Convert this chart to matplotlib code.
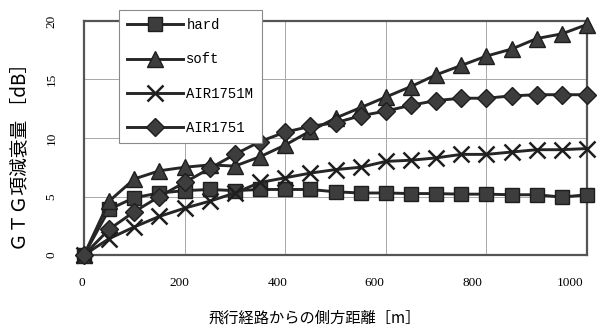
import matplotlib
matplotlib.use("Agg")
import matplotlib.pyplot as plt
import matplotlib.transforms as mtransforms

# Lateral distance from the flight path [m]
distance = [0, 50, 100, 150, 200, 250, 300, 350, 400, 450, 500,
            550, 600, 650, 700, 750, 800, 850, 900, 950, 1000]

# GTG-term attenuation [dB] for each ground model
hard = [0, 3.9, 4.9, 5.3, 5.5, 5.6, 5.5, 5.6, 5.6, 5.6, 5.4,
        5.3, 5.3, 5.25, 5.25, 5.2, 5.2, 5.15, 5.15, 4.95, 5.15]
soft = [0, 4.6, 6.5, 7.2, 7.5, 7.7, 7.6, 8.4, 9.4, 10.6, 11.7,
        12.6, 13.5, 14.4, 15.4, 16.2, 17.0, 17.6, 18.5, 18.9, 19.7]
air1751m = [0, 1.4, 2.4, 3.3, 4.0, 4.6, 5.3, 6.2, 6.6, 7.0, 7.3,
            7.5, 8.0, 8.1, 8.3, 8.6, 8.6, 8.8, 9.0, 9.0, 9.1]
air1751 = [0, 2.2, 3.7, 5.0, 6.2, 7.4, 8.6, 9.7, 10.5, 11.0, 11.3,
           11.9, 12.3, 12.8, 13.2, 13.4, 13.4, 13.6, 13.7, 13.7, 13.7]

series_names = ["hard", "soft", "AIR1751M", "AIR1751"]
x_ticks = [0, 200, 400, 600, 800, 1000]
y_ticks = [0, 5, 10, 15, 20]

x_label = "飛行経路からの側方距離［m］"
y_label = "ＧＴＧ項減衰量 ［dB］"

cjk = ["Noto Sans CJK JP", "DejaVu Sans"]
serif = ["Liberation Serif", "DejaVu Serif"]
mono = ["Liberation Mono", "DejaVu Sans Mono"]

fig = plt.figure(figsize=(6.0, 3.29), dpi=100)
fig.patch.set_facecolor("white")
ax = fig.add_axes([84 / 600, 1 - 255 / 329, (587 - 84) / 600, (255 - 21) / 329])

line_color = "#262626"
face = "#3d3d3d"
edge = "#1e1e1e"
styles = [
    dict(marker="s", markersize=10.5),
    dict(marker="^", markersize=12),
    dict(marker="x", markersize=12, markeredgewidth=1.8),
    dict(marker="D", markersize=9),
]

for name, values, st in zip(series_names, [hard, soft, air1751m, air1751], styles):
    kw = dict(color=line_color, linewidth=2.1, label=name, clip_on=False, zorder=3)
    kw.update(st)
    if st["marker"] != "x":
        kw.update(markerfacecolor=face, markeredgecolor=edge, markeredgewidth=1.0)
    else:
        kw.update(markeredgecolor=edge)
    ax.plot(distance, values, **kw)

ax.set_xlim(0, 1000)
ax.set_ylim(0, 20)
ax.set_xticks(x_ticks)
ax.set_yticks(y_ticks)
ax.set_xticklabels([])
ax.grid(True, color="#a8a8a8", linewidth=0.7)
ax.set_axisbelow(True)
for sp in ax.spines.values():
    sp.set_color("#555555")
    sp.set_linewidth(1.6)

ax.tick_params(axis="both", length=0)
ax.tick_params(axis="y", pad=19, labelsize=9.5, labelrotation=90)
for lbl in ax.get_yticklabels():
    lbl.set_family(serif)
    lbl.set_va("center")

# x tick labels, set slightly inward as in the printed layout
for v in x_ticks:
    shift = mtransforms.ScaledTranslation((-2 - 0.015 * v) / 100, -28 / 100, fig.dpi_scale_trans)
    ax.text(v, 0, str(v), transform=ax.get_xaxis_transform() + shift,
            ha="center", va="center", fontsize=9.5, family=serif)

ax.set_xlabel(x_label, fontsize=11, family=cjk)
ax.xaxis.set_label_coords((315 - 84) / 503, (255 - 318) / 234)
ax.xaxis.label.set_va("center")
ax.set_ylabel(y_label, fontsize=13.5, family=cjk)
ax.yaxis.set_label_coords((20 - 84) / 503, (255 - 152) / 234)
ax.yaxis.label.set_va("center")

leg = ax.legend(loc="upper left", bbox_to_anchor=(119 / 600, 1 - 10 / 329),
                bbox_transform=fig.transFigure, borderaxespad=0,
                prop={"family": mono, "size": 10}, handlelength=4.0,
                handletextpad=0.25, labelspacing=1.45, borderpad=0.6,
                fancybox=False, framealpha=1, edgecolor="#8a8a8a")
leg.get_frame().set_linewidth(0.8)
leg.set_zorder(5)

fig.savefig("out.png", dpi=100, facecolor="white")
